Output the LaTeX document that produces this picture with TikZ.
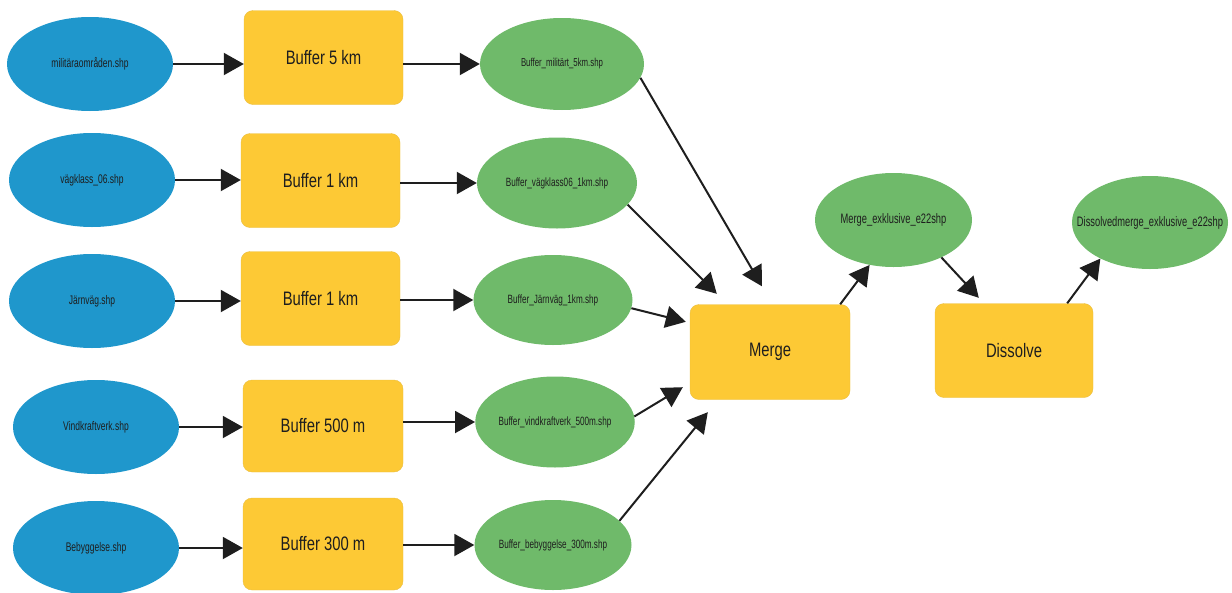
\documentclass[tikz,border=0pt]{standalone}
\usepackage{fontspec}
\usetikzlibrary{arrows.meta,shapes.geometric}
\newfontfamily\boxfont[FakeStretch=0.76]{Liberation Sans}
\newfontfamily\ellfont[FakeStretch=0.68]{Liberation Sans}
\definecolor{inblue}{HTML}{1F97CC}
\definecolor{tool}{HTML}{FDC935}
\definecolor{outgreen}{HTML}{6FBA6A}
\definecolor{ink}{HTML}{1E1E1E}
\begin{document}
\begin{tikzpicture}[x=1pt,y=-1pt,
  inp/.style={ellipse,fill=inblue,inner sep=0pt,minimum width=166pt,minimum height=94pt,text=ink,font=\ellfont\fontsize{12.5}{12.5}\selectfont},
  outp/.style={ellipse,fill=outgreen,inner sep=0pt,minimum width=160pt,minimum height=91pt,text=ink,font=\ellfont\fontsize{12}{12}\selectfont},
  bigout/.style={outp,font=\ellfont\fontsize{13.7}{13.7}\selectfont},
  toolbox/.style={rectangle,rounded corners=9pt,fill=tool,draw=tool!85!gray,line width=0.4pt,inner sep=0pt,minimum width=159pt,minimum height=94pt,text=ink,font=\boxfont\fontsize{19.5}{19.5}\selectfont},
  arr/.style={draw=ink,line width=2pt,-{Triangle[length=20pt,width=22pt]}}]
\useasboundingbox (0,0) rectangle (1232,592);
% inputs
\node[inp] (b1) at (90,64) {militäraområden.shp};
\node[inp] (b2) at (92,180) {vägklass\_06.shp};
\node[inp] (b3) at (92,301) {Järnväg.shp};
\node[inp] (b4) at (96,427) {Vindkraftverk.shp};
\node[inp] (b5) at (96,548) {Bebyggelse.shp};
% buffer tools
\node[toolbox] (y1) at (323.5,57.5) {Buffer 5 km};
\node[toolbox] (y2) at (320.5,180.5) {Buffer 1 km};
\node[toolbox] (y3) at (320.5,298.5) {Buffer 1 km};
\node[toolbox,minimum width=160pt,minimum height=92pt] (y4) at (323,426) {Buffer 500 m};
\node[toolbox,minimum width=160pt,minimum height=92pt] (y5) at (323,544) {Buffer 300 m};
% buffer outputs
\node[outp,minimum width=164pt,minimum height=92pt,font=\ellfont\fontsize{11.5}{11.5}\selectfont] (g1) at (562,64) {Buffer\_militärt\_5km.shp};
\node[outp] (g2) at (557,183) {Buffer\_vägklass06\_1km.shp};
\node[outp,minimum width=159pt,minimum height=90pt] (g3) at (553,300) {Buffer\_Järnväg\_1km.shp};
\node[outp,minimum width=159pt] (g4) at (555,422) {Buffer\_vindkraftverk\_500m.shp};
\node[outp,minimum width=157pt,minimum height=90pt] (g5) at (553,545) {Buffer\_bebyggelse\_300m.shp};
% merge / dissolve
\node[toolbox,minimum width=160pt,minimum height=95pt] (merge) at (770,352) {Merge};
\node[bigout,minimum width=157pt,minimum height=94pt] (mex) at (893.5,220) {\makebox[0pt]{Merge\_exklusive\_e22shp}};
\node[toolbox,minimum width=158pt,minimum height=94pt] (diss) at (1014,350.5) {Dissolve};
\node[bigout,minimum width=156pt,minimum height=93pt] (dm) at (1150,222.5) {\makebox[0pt]{Dissolvedmerge\_exklusive\_e22shp}};
% connectors: inputs -> buffers
\foreach \i in {1,...,5}{
  \draw[arr] (b\i.east) -- (b\i.east -| y\i.west);
  \draw[arr] (y\i.east |- g\i.west) -- (g\i.west);
}
% buffers -> merge
\draw[arr] (g1.-10) -- ([xshift=-8pt,yshift=18pt]merge.north);
\draw[arr] (g2.-17) -- ([xshift=27pt,yshift=10.5pt]merge.north west);
\draw[arr] (g3.-6) -- ([xshift=-4pt,yshift=-17.5pt]merge.north west);
\draw[arr] (g4.4) -- ([xshift=-7pt,yshift=12.5pt]merge.south west);
\draw[arr] (g5.20) -- ([xshift=18pt,yshift=-12.5pt]merge.south west);
% merge -> output -> dissolve -> output
\draw[arr] ([xshift=-10pt]merge.north east) -- (mex.-118);
\draw[arr] (mex.-38) -- ([xshift=44pt,yshift=5.5pt]diss.north west);
\draw[arr] ([xshift=-26pt]diss.north east) -- (dm.-144);
\end{tikzpicture}
\end{document}
